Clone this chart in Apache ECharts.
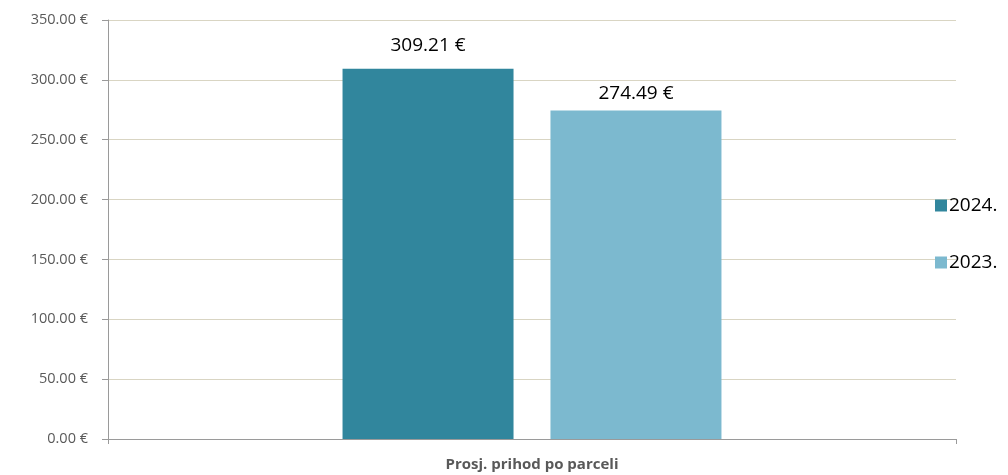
<!DOCTYPE html>
<html>
<head>
<meta charset="utf-8">
<script src="https://cdn.jsdelivr.net/npm/echarts@6/dist/echarts.min.js"></script>
<style>html,body{margin:0;padding:0;background:#fff;}#c{width:1008px;height:475px;}</style>
</head>
<body>
<div id="c"></div>
<script>
const categories = ['Prosj. prihod po parceli'];
const seriesNames = ['2024.', '2023.'];
const values2024 = [309.21];
const values2023 = [274.49];
const yTicks = { min: 0, max: 350, interval: 50 };

const fmt = v => v.toFixed(2) + ' €';
const font = '"Open Sans", "Noto Sans", sans-serif';

const chart = echarts.init(document.getElementById('c'));
chart.setOption({
  animation: false,
  textStyle: { fontFamily: font },
  grid: { left: 108, right: 52, top: 20, bottom: 36 },
  legend: {
    orient: 'vertical',
    left: 930,
    top: 191,
    itemWidth: 12,
    itemHeight: 12,
    itemGap: 38,
    icon: 'rect',
    textStyle: { fontSize: 19, color: '#000', fontFamily: font, padding: [0, 0, 0, -3] },
    data: seriesNames
  },
  xAxis: {
    type: 'category',
    data: categories,
    axisLine: { lineStyle: { color: '#9a9a9a' } },
    axisTick: { show: true, length: 5, lineStyle: { color: '#9a9a9a' } },
    axisLabel: { fontSize: 15, fontWeight: 'bold', color: '#595959', margin: 18, fontFamily: font }
  },
  yAxis: {
    type: 'value',
    min: yTicks.min, max: yTicks.max, interval: yTicks.interval,
    axisLine: { show: true, lineStyle: { color: '#9a9a9a' } },
    axisTick: { show: true, length: 6, lineStyle: { color: '#9a9a9a' } },
    axisLabel: { formatter: fmt, fontSize: 14.5, color: '#595959', margin: 20, fontFamily: font },
    splitLine: { lineStyle: { color: '#d9d5c3' } }
  },
  series: [
    {
      name: seriesNames[0], type: 'bar', data: values2024,
      barWidth: 171, barGap: '21.6%',
      itemStyle: { color: '#31869d' },
      label: { show: true, position: 'top', distance: 14, formatter: p => fmt(p.value), fontSize: 19, color: '#000', fontFamily: font }
    },
    {
      name: seriesNames[1], type: 'bar', data: values2023,
      barWidth: 171,
      itemStyle: { color: '#7cb9cf' },
      label: { show: true, position: 'top', distance: 7, formatter: p => fmt(p.value), fontSize: 19, color: '#000', fontFamily: font }
    }
  ]
});
</script>
</body>
</html>
